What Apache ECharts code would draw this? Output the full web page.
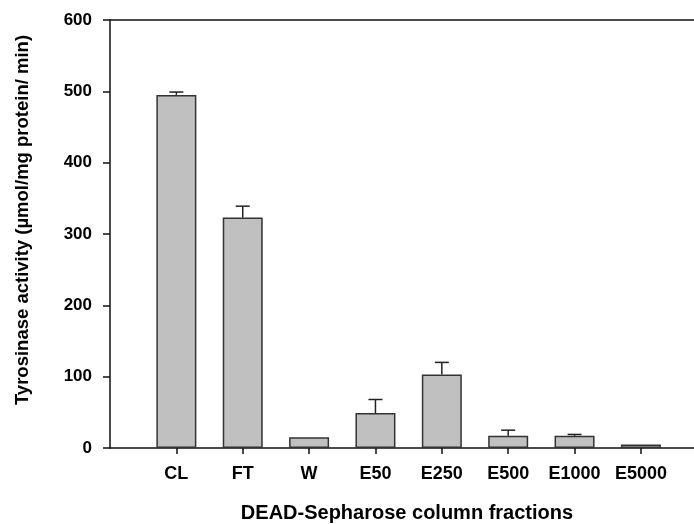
<!DOCTYPE html>
<html>
<head>
<meta charset="utf-8">
<script src="https://cdn.jsdelivr.net/npm/echarts@6/dist/echarts.min.js"></script>
<style>
  html, body { margin: 0; padding: 0; background: #fff; }
  #chart { width: 694px; height: 524px; }
</style>
</head>
<body>
<div id="chart"></div>
<script>
const categories = ['CL', 'FT', 'W', 'E50', 'E250', 'E500', 'E1000', 'E5000']
const activity = [495, 323, 15, 49, 103, 17, 17, 5]
const errorTop = [499, 339, null, 68, 120, 25, 19, null]
const yTicks = [0, 100, 200, 300, 400, 500, 600]

const positions = categories.map((c, i) => i + 1)
const barData = activity.map((v, i) => [positions[i], v])
const errData = errorTop
  .map((hi, i) => [positions[i], activity[i], hi])
  .filter(d => d[2] !== null)

const chart = echarts.init(document.getElementById('chart'))

const fontFamily = 'Liberation Sans, Arial, sans-serif'

chart.setOption({
  animation: false,
  grid: { left: 110, right: 0, top: 20, bottom: 76, outerBoundsMode: 'none', containLabel: false },
  xAxis: [{
    type: 'value',
    min: 0,
    max: 8.8,
    position: 'bottom',
    axisLine: { show: true, lineStyle: { color: '#111', width: 1.5 } },
    axisTick: { show: true, length: 6, customValues: positions, lineStyle: { color: '#111', width: 1.5 } },
    axisLabel: {
      customValues: positions,
      formatter: v => categories[Math.round(v) - 1] || '',
      color: '#000', fontWeight: 'bold', fontSize: 18, fontFamily, margin: 17
    },
    splitLine: { show: false },
    name: 'DEAD-Sepharose column fractions',
    nameLocation: 'middle',
    nameGap: 55,
    nameTextStyle: { color: '#000', fontWeight: 'bold', fontSize: 20, fontFamily, padding: [0, 0, 0, 10] }
  }, {
    type: 'value',
    min: 0,
    max: 8.8,
    position: 'top',
    axisLine: { show: true, lineStyle: { color: '#111', width: 1.5 } },
    axisTick: { show: false },
    axisLabel: { show: false },
    splitLine: { show: false }
  }],
  yAxis: {
    type: 'value',
    min: yTicks[0],
    max: yTicks[yTicks.length - 1],
    interval: 100,
    axisLine: { show: true, lineStyle: { color: '#111', width: 1.5 } },
    axisTick: { show: true, length: 7, lineStyle: { color: '#111', width: 1.5 } },
    axisLabel: { color: '#000', fontWeight: 'bold', fontSize: 17, fontFamily, margin: 18 },
    splitLine: { show: false },
    name: 'Tyrosinase activity (\u00b5mol/mg protein/ min)',
    nameLocation: 'middle',
    nameGap: 78,
    nameTextStyle: { color: '#000', fontWeight: 'bold', fontSize: 18.5, fontFamily, padding: [0, 0, 0, 28] }
  },
  series: [{
    type: 'bar',
    data: barData,
    barWidth: 40,
    itemStyle: { color: '#c0c0c0', borderColor: '#333', borderWidth: 1.5 }
  }, {
    type: 'custom',
    data: errData,
    z: 1,
    renderItem: (params, api) => {
      const base = api.coord([api.value(0), api.value(1)])
      const top = api.coord([api.value(0), api.value(2)])
      const hw = 7
      const style = { stroke: '#222', lineWidth: 1.5 }
      return {
        type: 'group',
        children: [
          { type: 'line', shape: { x1: top[0], y1: base[1], x2: top[0], y2: top[1] }, style },
          { type: 'line', shape: { x1: top[0] - hw, y1: top[1], x2: top[0] + hw, y2: top[1] }, style }
        ]
      }
    }
  }]
})
</script>
</body>
</html>
